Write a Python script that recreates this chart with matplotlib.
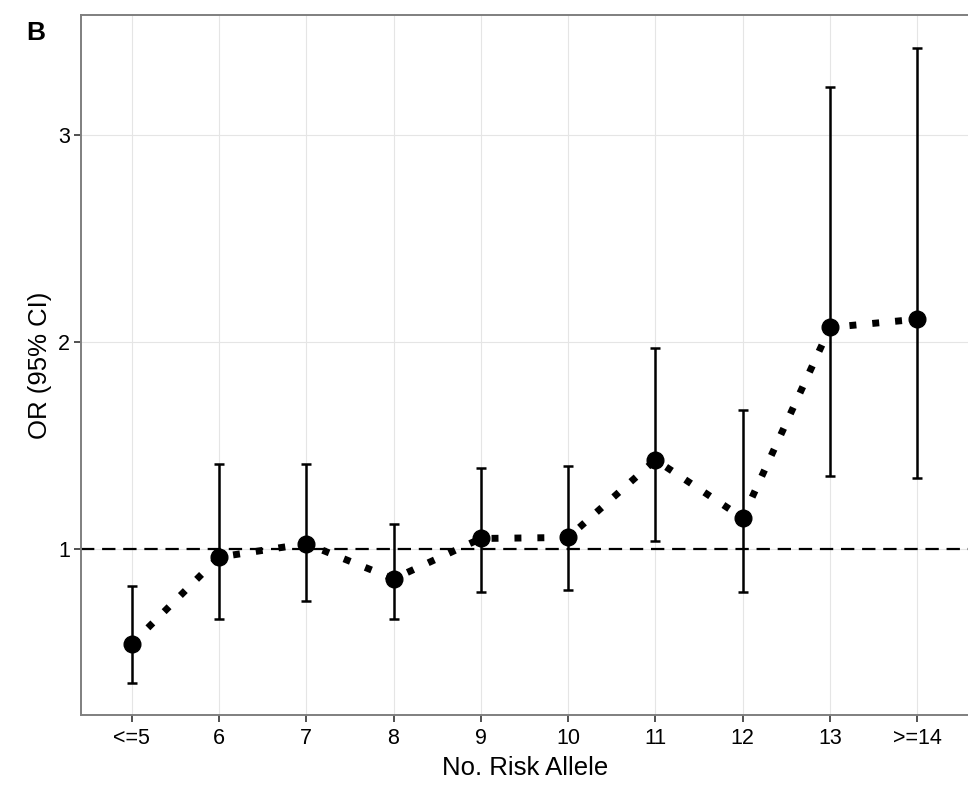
import numpy as np
import matplotlib
matplotlib.use('Agg')
from matplotlib import pyplot as plt

plt.rcParams['font.family'] = ['Liberation Sans', 'DejaVu Sans']

# data
groups = ['<=5', '6', '7', '8', '9', '10', '11', '12', '13', '>=14']
odds_ratio = [0.54, 0.96, 1.025, 0.855, 1.05, 1.055, 1.43, 1.15, 2.07, 2.11]
ci_low = [0.35, 0.66, 0.75, 0.66, 0.79, 0.80, 1.04, 0.79, 1.35, 1.34]
ci_high = [0.82, 1.41, 1.41, 1.12, 1.39, 1.40, 1.97, 1.67, 3.23, 3.42]

x = np.arange(1, len(groups) + 1)
orr = np.array(odds_ratio)
err = [orr - np.array(ci_low), np.array(ci_high) - orr]

fig = plt.figure(figsize=(9.68, 7.92), dpi=100)
ax = fig.add_axes([0.0837, 0.097, 0.918, 0.884])

# grid like theme_bw
ax.set_axisbelow(True)
ax.grid(True, color='#e5e5e5', linewidth=0.8)

ax.axhline(1, color='black', linestyle=(0, (6, 3.5)), linewidth=1.6, zorder=2)

ax.plot(x, orr, color='black', linewidth=5, linestyle=(0, (1, 2.3)),
        dash_capstyle='butt', zorder=3)
ax.errorbar(x, orr, yerr=err, fmt='none', ecolor='black', elinewidth=1.8,
            capsize=3.5, capthick=1.8, zorder=4)
ax.plot(x, orr, 'o', color='black', markersize=12, zorder=5)

ax.set_xlim(0.42, 10.6)
ax.set_ylim(0.196, 3.58)
ax.set_xticks(x)
ax.set_xticklabels(groups)
ax.set_yticks([1, 2, 3])
ax.tick_params(axis='both', labelsize=15.5, length=5, width=1.2, color='#333333')
ax.tick_params(axis='x', pad=4)
ax.tick_params(axis='y', pad=3)

for s in ax.spines.values():
    s.set_color('#7f7f7f')
    s.set_linewidth(1.4)

ax.set_xlabel('No. Risk Allele', fontsize=18.5, labelpad=5)
ax.set_ylabel('OR (95% CI)', fontsize=18.5, labelpad=4)

fig.text(0.027, 0.95, 'B', fontsize=19, fontweight='bold')

plt.savefig('out.png', dpi=100)
